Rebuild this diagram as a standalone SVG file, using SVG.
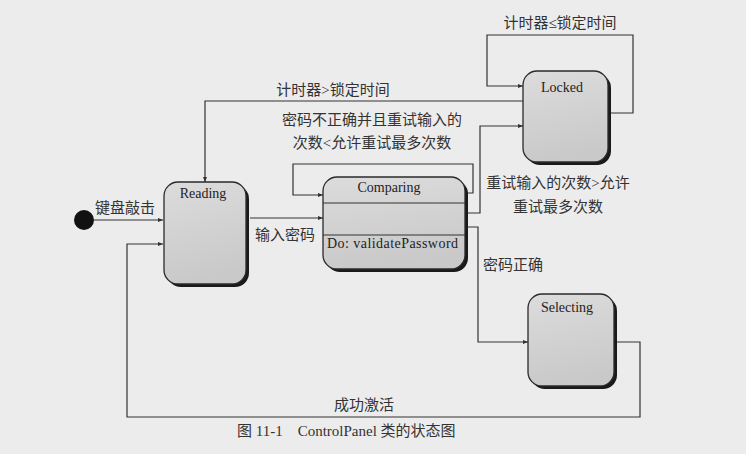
<svg xmlns="http://www.w3.org/2000/svg" width="746" height="454" viewBox="0 0 746 454">
<defs>
<linearGradient id="g" x1="0" y1="0" x2="0.2" y2="1">
<stop offset="0" stop-color="#dcdcdc"/>
<stop offset="1" stop-color="#c9c9c9"/>
</linearGradient>
<marker id="a" viewBox="0 0 10 10" refX="10" refY="5" markerWidth="7" markerHeight="5" orient="auto" markerUnits="userSpaceOnUse">
<path d="M0,1 L10,5 L0,9 Z" fill="#333"/>
</marker>
<style>
.box{fill:url(#g);stroke:#2a2a2a;stroke-width:1.3}
.sh{fill:#1a1a1a}
.ln{fill:none;stroke:#333;stroke-width:1.2}
.en{font-family:"Liberation Serif","Noto Sans CJK SC",serif;font-size:14px;fill:#222}
.zh{font-family:"Liberation Serif","Noto Sans CJK SC",serif;font-size:15px;fill:#333}
</style>
</defs>
<rect width="746" height="454" fill="#ececec"/>

<g id="connectors">
<path class="ln" d="M94,220 H163" marker-end="url(#a)"/>
<path class="ln" d="M612,342 H640 V417 H127 V244 H163" marker-end="url(#a)"/>
<path class="ln" d="M250,218 H323" marker-end="url(#a)"/>
<path class="ln" d="M467,193 H473 V164 H293 V195 H323" marker-end="url(#a)"/>
<path class="ln" d="M523,101 H205 V182" marker-end="url(#a)"/>
<path class="ln" d="M611,113 H633 V35 H487 V86 H523" marker-end="url(#a)"/>
<path class="ln" d="M468,213 H480 V126 H523" marker-end="url(#a)"/>
<path class="ln" d="M468,227 H478 V342 H528" marker-end="url(#a)"/>
</g>

<g id="initial">
<circle cx="84" cy="220" r="10" fill="#111"/>
</g>

<g id="reading">
<rect class="sh" x="167" y="185" width="82" height="102" rx="14"/>
<rect class="box" x="164" y="182" width="82" height="102" rx="14"/>
<text class="en" x="203" y="198" text-anchor="middle">Reading</text>
</g>

<g id="comparing">
<rect class="sh" x="326" y="180" width="142" height="92" rx="14"/>
<rect class="box" x="323" y="177" width="142" height="92" rx="14"/>
<line class="ln" x1="323" y1="203" x2="465" y2="203"/>
<line class="ln" x1="323" y1="235" x2="465" y2="235"/>
<text class="en" x="389" y="192" text-anchor="middle">Comparing</text>
<text class="en" x="327" y="248" textLength="131">Do: validatePassword</text>
</g>

<g id="locked">
<rect class="sh" x="526" y="74" width="85" height="91" rx="14"/>
<rect class="box" x="523" y="71" width="85" height="91" rx="14"/>
<text class="en" x="562" y="92" text-anchor="middle">Locked</text>
</g>

<g id="selecting">
<rect class="sh" x="531" y="297" width="86" height="92" rx="14"/>
<rect class="box" x="528" y="294" width="86" height="92" rx="14"/>
<text class="en" x="567" y="312" text-anchor="middle">Selecting</text>
</g>

<g id="labels">
<text class="zh" x="95" y="213">键盘敲击</text>
<text class="zh" x="255" y="240">输入密码</text>
<text class="zh" x="333" y="95" text-anchor="middle">计时器&gt;锁定时间</text>
<text class="zh" x="560" y="28" text-anchor="middle">计时器≤锁定时间</text>
<text class="zh" x="372" y="125" text-anchor="middle">密码不正确并且重试输入的</text>
<text class="zh" x="372" y="148" text-anchor="middle">次数&lt;允许重试最多次数</text>
<text class="zh" x="558" y="188" text-anchor="middle">重试输入的次数&gt;允许</text>
<text class="zh" x="558" y="212" text-anchor="middle">重试最多次数</text>
<text class="zh" x="483" y="270">密码正确</text>
<text class="zh" x="364" y="410" text-anchor="middle">成功激活</text>
<text class="zh" x="237" y="436" xml:space="preserve">图 11-1    ControlPanel 类的状态图</text>
</g>
</svg>
